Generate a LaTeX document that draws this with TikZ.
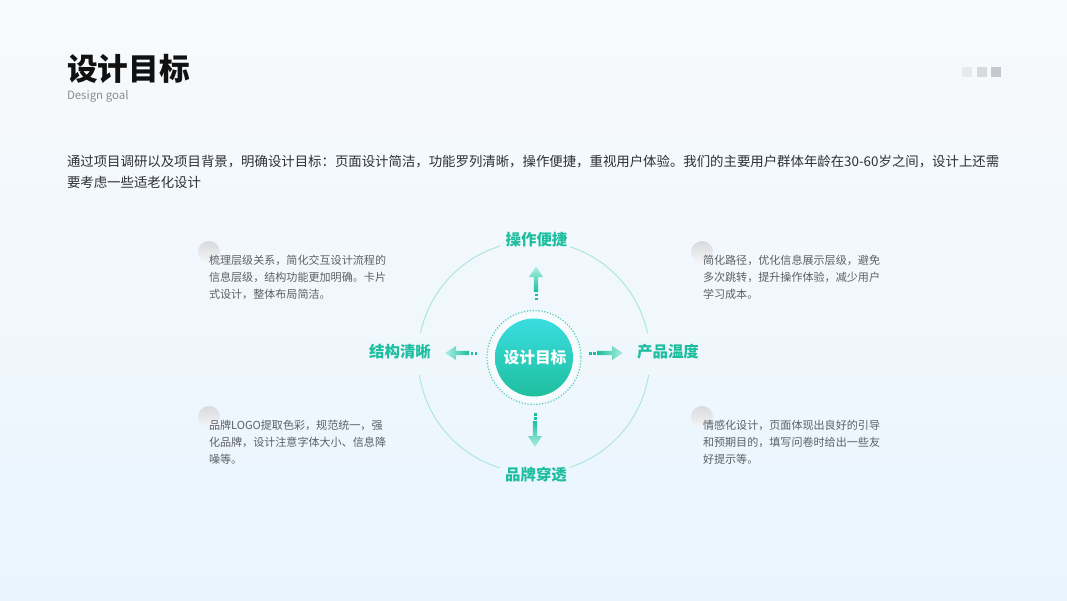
\documentclass[tikz,border=0pt]{standalone}
\usepackage{fontspec}
\setmainfont{Noto Sans CJK SC}
\definecolor{bgtop}{HTML}{F8FAFC}
\definecolor{bgbot}{HTML}{E9F5FE}
\definecolor{titlec}{HTML}{111111}
\definecolor{subc}{HTML}{8A8E94}
\definecolor{parac}{HTML}{2E3033}
\definecolor{descc}{HTML}{5C6066}
\definecolor{tealc}{HTML}{1DBE9F}
\definecolor{teallight}{HTML}{AEEFE2}
\definecolor{ringc}{HTML}{A8E6DA}
\definecolor{cyanc}{HTML}{3ADDE0}
\definecolor{greenc}{HTML}{1FBF9E}
\definecolor{sqa}{HTML}{E6EAEE}
\definecolor{sqb}{HTML}{D6DADF}
\definecolor{sqc}{HTML}{C4C8CE}
\definecolor{dota}{HTML}{D8DADD}
\definecolor{dotb}{HTML}{F4F6F8}
\tikzset{
  para/.style={anchor=west, font=\fontsize{10.05}{12}\selectfont, text=parac},
  desc/.style={anchor=west, font=\fontsize{8.3}{10}\selectfont, text=descc},
  lab/.style={font=\fontsize{11.6}{12}\bfseries\selectfont, text=tealc},
  deco/.style={top color=dota, bottom color=dotb},
  ring/.style={draw=ringc, line width=0.7pt},
}
\begin{document}
\begin{tikzpicture}[x=0.75pt,y=-0.75pt, every node/.style={inner sep=0pt, outer sep=0pt}]
\useasboundingbox (0,0) rectangle (1067,600);
\shade[top color=bgtop, bottom color=bgbot] (0,0) rectangle (1067,600);

% header
\node[anchor=west, font=\fontsize{23}{24}\bfseries\selectfont, text=titlec] (title) at (67,69) {设计目标};
\node[anchor=west, font=\fontsize{8.6}{10}\selectfont, text=subc] (subtitle) at (67,96.5) {Design goal};
\fill[sqa] (962,67) rectangle (971.5,76.5);
\fill[sqb] (977,67) rectangle (986.5,76.5);
\fill[sqc] (991,67) rectangle (1000.5,76.5);

% paragraph
\node[para] (para1) at (67,162) {通过项目调研以及项目背景，明确设计目标：页面设计简洁，功能罗列清晰，操作便捷，重视用户体验。我们的主要用户群体年龄在30-60岁之间，设计上还需};
\node[para] (para2) at (67,182) {要考虑一些适老化设计};

% outer ring arcs (gaps for labels)
\coordinate (c) at (534,357);
\draw[ring] (c) ++(9:116) arc[start angle=9, end angle=72, radius=116];
\draw[ring] (c) ++(107:116) arc[start angle=107, end angle=171, radius=116];
\draw[ring] (c) ++(192:116) arc[start angle=192, end angle=253, radius=116];
\draw[ring] (c) ++(288:116) arc[start angle=288, end angle=348, radius=116];

% labels
\node[lab] (ltop) at (536.5,240) {操作便捷};
\node[lab] (lleft) at (400,352) {结构清晰};
\node[lab] (lright) at (668,352) {产品温度};
\node[lab] (lbottom) at (536,475) {品牌穿透};

% center
\fill[white, opacity=0.5] (534,357.5) circle[radius=45];
\draw[tealc!80, line width=0.8pt, dash pattern=on 0.9pt off 1.3pt] (534,357.5) circle[radius=47];
\shade[top color=cyanc, bottom color=greenc] (534,357.5) circle[radius=39];
\node[font=\fontsize{11.8}{12}\bfseries\selectfont, text=white] (goal) at (535,358) {设计目标};

% up arrow
\fill[tealc] (534.5,297.5) rectangle (537.5,300);
\fill[tealc] (534.5,293.5) rectangle (537.5,296);
\shade[top color=teallight, bottom color=tealc] (533.8,292) -- (538.2,292) -- (538.2,277) -- (543,277) -- (536,266.5) -- (529,277) -- (533.8,277) -- cycle;
% down arrow
\fill[tealc] (533.5,413) rectangle (536.5,415.5);
\fill[tealc] (533.5,417) rectangle (536.5,419.5);
\shade[top color=tealc, bottom color=teallight] (532.8,421) -- (537.2,421) -- (537.2,436) -- (542,436) -- (535,447) -- (528,436) -- (532.8,436) -- cycle;
% left arrow
\fill[tealc] (474.5,351.5) rectangle (477,354.5);
\fill[tealc] (470.5,351.5) rectangle (473,354.5);
\shade[left color=teallight, right color=tealc] (469,350.8) -- (469,355.2) -- (456,355.2) -- (456,360) -- (445,353) -- (456,346) -- (456,350.8) -- cycle;
% right arrow
\fill[tealc] (589,351.5) rectangle (591.5,354.5);
\fill[tealc] (593,351.5) rectangle (595.5,354.5);
\shade[left color=tealc, right color=teallight] (597,350.8) -- (597,355.2) -- (612,355.2) -- (612,360) -- (623,353) -- (612,346) -- (612,350.8) -- cycle;

% description blocks
\shade[deco] (209,252) circle[radius=11];
\shade[deco] (702,252) circle[radius=11];
\shade[deco] (209,417) circle[radius=11];
\shade[deco] (702,417) circle[radius=11];

\node[desc] (tl1) at (209,260) {梳理层级关系，简化交互设计流程的};
\node[desc] (tl2) at (209,277) {信息层级，结构功能更加明确。卡片};
\node[desc] (tl3) at (209,294) {式设计，整体布局简洁。};

\node[desc] (tr1) at (703,260) {简化路径，优化信息展示层级，避免};
\node[desc] (tr2) at (703,277) {多次跳转，提升操作体验，减少用户};
\node[desc] (tr3) at (703,294) {学习成本。};

\node[desc] (bl1) at (209,425) {品牌LOGO提取色彩，规范统一，强};
\node[desc] (bl2) at (209,442) {化品牌，设计注意字体大小、信息降};
\node[desc] (bl3) at (209,459) {噪等。};

\node[desc] (br1) at (703,425) {情感化设计，页面体现出良好的引导};
\node[desc] (br2) at (703,442) {和预期目的，填写问卷时给出一些友};
\node[desc] (br3) at (703,459) {好提示等。};
\end{tikzpicture}
\end{document}
